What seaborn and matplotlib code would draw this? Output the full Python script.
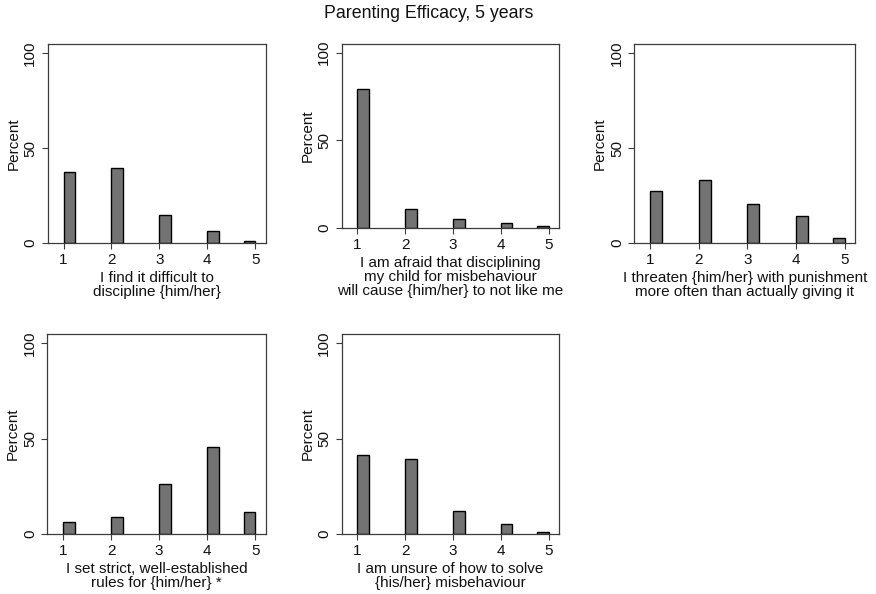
import matplotlib
matplotlib.use("Agg")
import matplotlib.pyplot as plt
import seaborn as sns
import pandas as pd

sns.set_style("white")
plt.rcParams['font.family'] = ['Liberation Sans', 'DejaVu Sans']

title = "Parenting Efficacy, 5 years"
categories = [1, 2, 3, 4, 5]
labels = [
    "I find it difficult to\ndiscipline {him/her}",
    "I am afraid that disciplining\nmy child for misbehaviour\nwill cause {him/her} to not like me",
    "I threaten {him/her} with punishment\nmore often than actually giving it",
    "I set strict, well-established\nrules for {him/her} *",
    "I am unsure of how to solve\n{his/her} misbehaviour",
]
difficult = [37.1, 39.6, 14.4, 6.0, 1.0]
afraid = [79.2, 10.7, 4.8, 2.9, 1.0]
threaten = [27.2, 33.2, 20.5, 14.2, 2.5]
strict = [6.2, 9.0, 26.2, 45.5, 11.4]
unsure = [41.3, 39.2, 11.8, 4.9, 0.9]
series = [difficult, afraid, threaten, strict, unsure]
yticks = [0, 50, 100]
# Stata-style bar alignment relative to the value (last bin closes at its value)
bar_align = ["left", "left", "left", "left", "right"]

W, H = 876, 594
fig = plt.figure(figsize=(W / 100, H / 100), dpi=100)

# axes boxes in pixels: left, right, top, bottom
boxes = [
    (47.7, 265.7, 44.3, 242.7),
    (341.7, 559.3, 44.3, 227.7),
    (634.3, 855.3, 44.3, 242.7),
    (47.3, 265.7, 334.3, 533.7),
    (341.7, 559.3, 334.3, 533.7),
]

bar_color = "#737373"
spine_color = "#3c3c3c"

for (l, r, t, b), vals, lab in zip(boxes, series, labels):
    ax = fig.add_axes([l / W, 1 - b / H, (r - l) / W, (b - t) / H])
    df = pd.DataFrame({"value": categories, "percent": vals})
    sns.barplot(data=df, x="value", y="percent", native_scale=True, width=0.24,
                color=bar_color, saturation=1, errorbar=None,
                edgecolor="black", linewidth=1.0, ax=ax)
    for p, al in zip(ax.patches, bar_align):
        half = p.get_width() / 2
        p.set_x(p.get_x() + (half if al == "left" else -half))
    ax.set_xlim(0.67, 5.22)
    ax.set_ylim(0, 104.8)
    ax.set_xticks(categories)
    ax.set_yticks(yticks)
    ax.set_xlabel(lab, fontsize=11, labelpad=3, linespacing=1.0, color="#111111")
    ax.set_ylabel("Percent", fontsize=11, labelpad=2, color="#111111")
    ax.tick_params(axis="both", which="major", length=4.5, width=0.8,
                   color=spine_color, labelsize=11, labelcolor="#111111",
                   bottom=True, left=True, pad=3)
    ax.tick_params(axis="y", labelrotation=90)
    for lbl in ax.get_yticklabels():
        lbl.set_va("center")
    for s in ax.spines.values():
        s.set_color(spine_color)
        s.set_linewidth(0.9)
    ax.grid(False)

fig.text(428.7 / W, 1 - 14 / H, title, ha="center", va="center", fontsize=12.8,
         color="#111111")

fig.savefig("out.png", dpi=100, facecolor="white")
